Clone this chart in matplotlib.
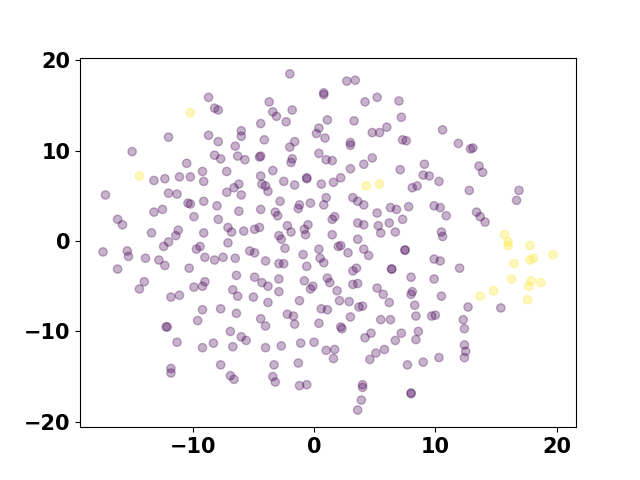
import numpy as np
import matplotlib
matplotlib.use("Agg")
import matplotlib.pyplot as plt

# class 0 (purple) points: (x, y)
class0 = [
    (-12.0, 11.5), (-15.0, 9.9), (-10.5, 8.6), (-13.2, 6.7), (-12.3, 6.9), (-11.1, 7.1), (-10.2, 7.1),
    (-2.0, 18.5), (-8.7, 15.9), (-8.2, 14.7), (-7.9, 14.5), (-3.7, 15.4), (-3.4, 14.3), (-3.1, 13.8),
    (-1.8, 14.5), (-2.3, 13.2), (-4.4, 13.0), (-8.7, 11.7), (-7.9, 11.0), (-6.0, 12.2), (-6.0, 11.6),
    (-4.1, 11.2), (-1.6, 11.0), (-2.0, 10.4), (0.2, 11.9), (0.4, 12.5), (-6.5, 10.5), (-8.2, 9.5),
    (-7.7, 9.1), (-6.3, 9.4), (-5.7, 9.0), (-4.5, 9.3), (-4.4, 9.4), (-1.8, 9.1), (-1.9, 8.7),
    (0.4, 9.7), (-9.2, 7.7), (-7.2, 7.7), (-3.4, 7.8), (-4.4, 7.2), (-9.1, 6.6), (-0.6, 6.9), (-0.6, 7.0),
    (2.7, 17.7), (3.4, 17.8), (0.8, 16.4), (0.8, 16.2), (4.2, 15.4), (5.2, 15.9), (7.0, 15.5),
    (1.1, 13.4), (3.3, 13.3), (7.2, 13.7), (4.8, 12.0), (5.4, 12.0), (6.0, 12.6), (0.9, 11.4),
    (3.0, 10.9), (3.0, 10.6), (7.3, 11.2), (7.6, 11.1), (1.0, 9.0), (1.5, 8.9), (4.8, 9.2),
    (4.1, 8.5), (3.0, 8.0), (7.1, 7.9), (9.1, 8.5), (9.0, 7.3), (9.5, 7.2), (2.2, 7.0), (1.6, 6.5),
    (0.6, 6.3),
    (10.6, 12.3), (11.9, 10.8), (12.9, 10.2), (13.1, 10.3), (13.6, 8.3), (13.9, 7.6), (10.3, 6.6),
    (-17.2, 5.1), (-12.0, 5.3), (-11.3, 5.2), (-10.4, 4.2), (-10.2, 4.1), (-13.2, 3.2), (-12.5, 3.5),
    (-9.9, 2.7), (-16.2, 2.4), (-15.8, 1.8), (-13.4, 0.9), (-11.2, 1.2), (-11.4, 0.6), (-12.0, -0.1),
    (-12.4, -0.6), (-9.4, -0.6), (-9.7, -0.9), (-17.4, -1.2), (-15.4, -1.1), (-15.3, -1.7),
    (-13.9, -1.9), (-12.8, -2.1), (-12.3, -2.7), (-16.2, -3.1), (-10.3, -3.0), (-14.0, -4.5),
    (-14.4, -5.3), (-9.9, -5.1), (-11.8, -6.2), (-11.1, -6.0),
    (-6.2, 6.3), (-6.6, 5.9), (-7.2, 5.4), (-6.0, 5.1), (-4.3, 6.3), (-4.0, 6.1), (-3.8, 5.5),
    (-2.5, 6.6), (-1.6, 6.2), (-9.1, 4.4), (-8.0, 3.9), (-6.2, 3.3), (-4.4, 3.5), (-2.8, 4.4),
    (-3.2, 3.2), (-3.0, 2.8), (-1.2, 4.0), (-1.3, 3.6), (-0.3, 4.2), (-7.9, 2.4), (-9.1, 0.9),
    (-7.1, 1.5), (-6.8, 1.0), (-5.8, 1.1), (-4.9, 1.3), (-4.5, 1.5), (-2.2, 1.7), (-1.9, 1.0),
    (-0.5, 1.8), (-0.8, 1.3), (-0.7, 0.7), (-7.1, -0.2), (-2.9, 0.6), (-2.7, 0.2), (-2.4, -0.8),
    (-5.3, -1.1), (-4.9, -1.3), (-9.0, -1.8), (-8.2, -2.1), (-7.5, -1.8), (-6.5, -1.9), (-4.0, -2.2),
    (-2.9, -2.5), (-2.5, -2.5), (-0.9, -1.5), (-0.6, -2.8), (-6.4, -3.8), (-4.9, -4.0), (-4.3, -4.6),
    (-3.8, -5.0), (-2.9, -4.2), (-0.8, -4.4), (-0.1, -5.0), (-0.3, -5.3), (-9.0, -4.5), (-9.2, -5.0),
    (-6.7, -5.4), (-6.3, -6.1), (-5.0, -6.2), (-2.9, -5.6),
    (8.1, 5.9), (8.5, 6.1), (1.0, 4.8), (0.8, 4.0), (3.2, 4.8), (3.6, 4.4), (4.1, 4.0), (5.2, 3.1),
    (6.3, 3.7), (6.8, 3.5), (7.8, 3.8), (1.5, 2.4), (1.7, 2.7), (3.6, 2.0), (4.1, 1.8), (5.3, 1.7),
    (5.5, 0.9), (6.2, 2.0), (7.3, 2.4), (6.7, 1.0), (1.5, 0.7), (3.6, 0.2), (0.4, -0.9), (2.0, -0.6),
    (2.2, -0.5), (2.8, -1.3), (4.1, -0.9), (4.5, -1.6), (7.5, -1.0), (7.5, -1.0), (0.5, -1.9),
    (0.8, -2.4), (3.2, -3.3), (3.5, -3.0), (6.4, -3.1), (6.4, -3.1), (1.1, -4.1), (1.3, -4.6),
    (3.2, -4.8), (3.6, -4.7), (8.0, -4.0), (1.9, -5.5), (5.2, -5.2), (5.7, -5.9), (8.1, -5.6),
    (8.0, -5.9),
    (12.8, 5.6), (16.9, 5.6), (16.7, 4.5), (9.9, 3.9), (10.4, 3.7), (10.9, 2.8), (13.4, 3.2),
    (13.7, 2.7), (14.1, 2.1), (10.5, 1.0), (10.6, 0.5), (9.9, -2.0), (10.4, -2.2), (12.0, -3.0),
    (9.9, -4.2), (10.5, -6.1),
    (-9.6, -8.8), (-12.1, -9.5), (-12.2, -9.5), (-11.3, -11.2), (-11.8, -14.1), (-11.8, -14.6),
    (-9.2, -7.6), (-7.7, -7.5), (-6.4, -8.0), (-3.8, -6.8), (-1.2, -6.6), (-4.4, -8.6), (-4.0, -9.4),
    (-2.2, -8.1), (-1.7, -8.3), (-1.6, -9.2), (-6.9, -10.0), (-6.0, -10.6), (-5.6, -11.0),
    (-9.2, -11.8), (-8.3, -11.3), (-6.7, -11.7), (-4.0, -11.8), (-2.7, -11.6), (-1.1, -11.3),
    (0.0, -11.2), (-7.7, -13.7), (-3.3, -13.7), (-1.3, -13.5), (-6.9, -14.9), (-6.6, -15.3),
    (-3.4, -15.0), (-3.2, -15.6), (-1.2, -16.0), (-0.6, -15.9),
    (2.1, -6.6), (2.9, -6.7), (0.6, -7.5), (1.1, -7.6), (3.7, -7.3), (4.0, -7.2), (6.2, -6.8),
    (8.3, -7.1), (0.4, -9.1), (3.0, -8.4), (5.5, -8.7), (6.3, -8.7), (8.4, -8.3), (9.7, -8.3),
    (10.0, -8.2), (2.2, -9.5), (2.3, -9.7), (4.2, -10.7), (4.7, -10.2), (7.2, -10.2), (6.7, -11.0),
    (8.6, -10.0), (8.4, -10.9), (1.0, -12.1), (1.7, -12.0), (1.6, -13.0), (5.1, -12.4), (4.6, -13.1),
    (5.8, -12.0), (7.7, -13.7), (9.0, -13.4), (4.0, -15.9), (4.0, -16.2), (8.0, -16.9), (8.0, -16.8),
    (3.9, -17.6), (3.6, -18.7),
    (12.7, -7.3), (15.4, -7.4), (12.3, -8.7), (12.4, -9.7), (12.4, -11.5), (12.5, -12.2),
    (12.4, -12.9), (10.3, -12.9),
]

# class 1 (yellow) points: (x, y)
class1 = [
    (-10.2, 14.2), (-14.4, 7.2), (4.3, 6.1), (5.4, 6.3),
    (15.7, 0.7), (16.0, -0.1), (16.0, -0.5), (17.8, -0.5), (19.7, -1.5), (17.8, -2.1), (18.1, -1.9),
    (16.5, -2.5), (16.3, -4.2), (17.9, -4.4), (17.7, -5.0), (18.7, -4.6), (14.8, -5.5), (13.7, -6.1),
    (17.6, -6.5),
]

x = np.array([p[0] for p in class0] + [p[0] for p in class1])
y = np.array([p[1] for p in class0] + [p[1] for p in class1])
labels = np.array([0] * len(class0) + [1] * len(class1))

fig, ax = plt.subplots(figsize=(6.4, 4.8), dpi=100)
ax.scatter(x, y, c=labels, cmap="viridis", alpha=0.3)
ax.set_xlim(-19.3, 21.6)
ax.set_ylim(-20.6, 20.3)
ax.set_xticks([-10, 0, 10, 20])
ax.set_yticks([-20, -10, 0, 10, 20])
for lab in ax.get_xticklabels() + ax.get_yticklabels():
    lab.set_fontsize(15)
    lab.set_fontweight("bold")
fig.savefig("out.png", dpi=100)
